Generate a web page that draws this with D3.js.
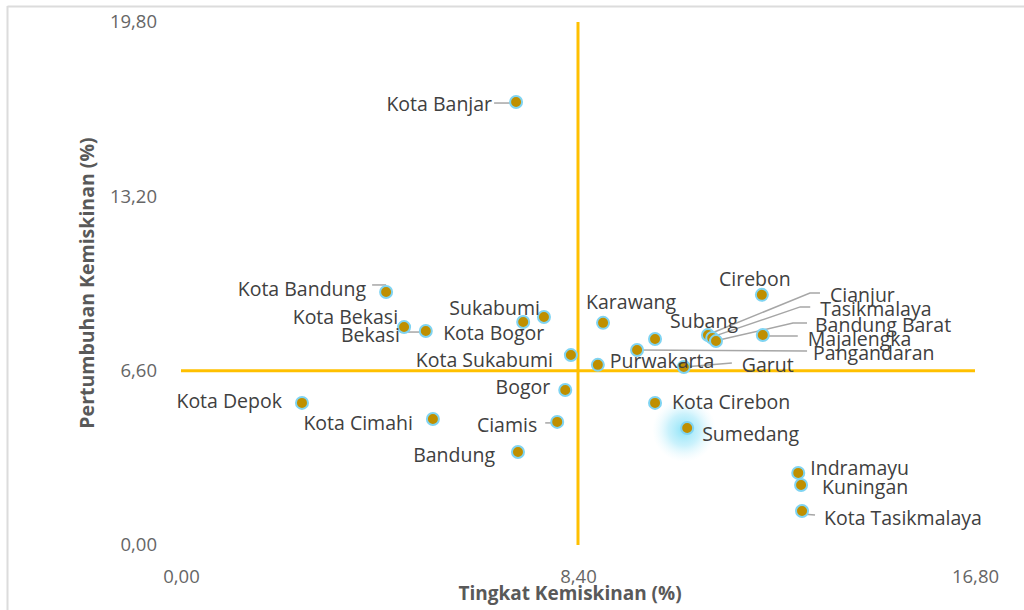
<!DOCTYPE html>
<html><head><meta charset="utf-8">
<script src="https://cdn.jsdelivr.net/npm/d3@7"></script>
<style>body{margin:0;background:#fff}svg{display:block}</style>
</head><body>
<svg id="c" width="1024" height="610"></svg>
<script>
const names = ["Kota Banjar","Kota Bandung","Kota Bekasi","Bekasi","Sukabumi","Kota Bogor","Kota Sukabumi","Bogor","Kota Depok","Kota Cimahi","Ciamis","Bandung","Karawang","Subang","Cianjur","Tasikmalaya","Bandung Barat","Majalengka","Cirebon","Pangandaran","Purwakarta","Garut","Kota Cirebon","Sumedang","Indramayu","Kuningan","Kota Tasikmalaya"];
const povertyRate = [7.09,4.34,4.72,5.18,7.68,7.24,8.25,8.13,2.56,5.33,7.96,7.13,8.93,10.03,11.15,11.24,11.32,12.31,12.29,9.65,8.82,10.64,10.03,10.71,13.06,13.12,13.14];
const povertyGrowth = [16.77,9.58,8.25,8.10,8.63,8.44,7.19,5.87,5.38,4.77,4.66,3.52,8.41,7.80,7.95,7.84,7.72,7.95,9.47,7.38,6.82,6.74,5.38,4.43,2.73,2.27,1.29];
const xTicks = [0,8.4,16.8];
const yTicks = [0,6.6,13.2,19.8];
const xThreshold = 8.4, yThreshold = 6.6;
const xTitle = "Tingkat Kemiskinan (%)", yTitle = "Pertumbuhan Kemiskinan (%)";
const highlighted = "Sumedang";

// label layout (pixel offsets from the point)
const labelLayout = {
 "Kota Banjar":{a:"end",dx:-24,dy:2,lead:[[-22,1],[-6,1]]},
 "Kota Bandung":{a:"end",dx:-20,dy:-3,lead:[[-14,-7],[0,-7]]},
 "Kota Bekasi":{a:"end",dx:-6,dy:-10},
 "Bekasi":{a:"end",dx:-26,dy:4,lead:[[-26,1],[-6,1]]},
 "Sukabumi":{a:"end",dx:-4,dy:-9},
 "Kota Bogor":{a:"start",dx:-80,dy:11},
 "Kota Sukabumi":{a:"end",dx:-18,dy:5},
 "Bogor":{a:"end",dx:-15,dy:-3},
 "Kota Depok":{a:"end",dx:-20,dy:-2},
 "Kota Cimahi":{a:"end",dx:-20,dy:4},
 "Ciamis":{a:"end",dx:-20,dy:3,lead:[[-12,1],[-4,1]]},
 "Bandung":{a:"end",dx:-23,dy:3},
 "Karawang":{a:"start",dx:-17,dy:-21},
 "Subang":{a:"start",dx:15,dy:-18},
 "Cianjur":{a:"start",dx:122,dy:-40,lead:[[4,-2],[102,-42],[112,-42]]},
 "Tasikmalaya":{a:"start",dx:108,dy:-29,lead:[[3,-2],[88,-31],[98,-31]]},
 "Bandung Barat":{a:"start",dx:99,dy:-16,lead:[[3,-1],[77,-18],[91,-18]]},
 "Majalengka":{a:"start",dx:45,dy:4,lead:[[0,1],[35,1]]},
 "Cirebon":{a:"middle",dx:-7,dy:-16},
 "Pangandaran":{a:"start",dx:176,dy:3,lead:[[0,0],[170,1]]},
 "Purwakarta":{a:"start",dx:12,dy:-4},
 "Garut":{a:"start",dx:58,dy:-2,lead:[[0,0],[48,-4]]},
 "Kota Cirebon":{a:"start",dx:17,dy:-1},
 "Sumedang":{a:"start",dx:15,dy:6},
 "Indramayu":{a:"start",dx:12,dy:-5},
 "Kuningan":{a:"start",dx:21,dy:2},
 "Kota Tasikmalaya":{a:"start",dx:22,dy:7,lead:[[0,3],[13,4]]}
};

const data = names.map((n,i)=>({name:n,x:povertyRate[i],y:povertyGrowth[i]}));
const svg = d3.select("#c");
const FONT = "'Open Sans', 'Noto Sans', sans-serif";
const x = d3.scaleLinear().domain([0,16.8]).range([181,975]);
const y = d3.scaleLinear().domain([0,19.8]).range([545,22]);
const fmt = d => d3.format(".2f")(d).replace(".",",");

// frame
svg.append("line").attr("x1",7.5).attr("x2",1024).attr("y1",6.5).attr("y2",6.5).attr("stroke","#dcdcdc").attr("stroke-width",2);
svg.append("line").attr("x1",7.5).attr("x2",7.5).attr("y1",6).attr("y2",610).attr("stroke","#dcdcdc").attr("stroke-width",2);

// glow
const defs = svg.append("defs");
const g = defs.append("radialGradient").attr("id","glow");
g.append("stop").attr("offset","0%").attr("stop-color","#7fe0f7").attr("stop-opacity",0.9);
g.append("stop").attr("offset","50%").attr("stop-color","#a8e9fa").attr("stop-opacity",0.6);
g.append("stop").attr("offset","100%").attr("stop-color","#e0f7fd").attr("stop-opacity",0);

// axes
const xa = svg.append("g").attr("transform","translate(0,545)")
  .call(d3.axisBottom(x).tickValues(xTicks).tickSize(0).tickPadding(25).tickFormat(fmt));
const ya = svg.append("g").attr("transform","translate(181,0)")
  .call(d3.axisLeft(y).tickValues(yTicks).tickSize(0).tickPadding(24).tickFormat(fmt));
[xa,ya].forEach(a=>{a.select(".domain").remove();
  a.selectAll("text").attr("fill","#666").style("font-family",FONT).style("font-size","18.5px");});

// titles
svg.append("text").attr("x",570).attr("y",593).attr("dy","0.35em").attr("text-anchor","middle")
  .attr("fill","#595959").style("font-family",FONT).style("font-weight","bold").style("font-size","19px").text(xTitle);
svg.append("text").attr("transform","translate(87,283) rotate(-90)").attr("dy","0.35em").attr("text-anchor","middle")
  .attr("fill","#595959").style("font-family",FONT).style("font-weight","bold").style("font-size","19.5px").text(yTitle);

// threshold lines
svg.append("line").attr("x1",x(0)).attr("x2",x(16.8)).attr("y1",y(yThreshold)).attr("y2",y(yThreshold))
  .attr("stroke","#FFC000").attr("stroke-width",3);
svg.append("line").attr("x1",x(xThreshold)).attr("x2",x(xThreshold)).attr("y1",y(19.8)).attr("y2",y(0))
  .attr("stroke","#FFC000").attr("stroke-width",3);

// glow behind highlighted
data.filter(d=>d.name===highlighted).forEach(d=>{
  svg.append("circle").attr("cx",x(d.x)-3).attr("cy",y(d.y)+2).attr("r",32).attr("fill","url(#glow)");
});

// leader lines
const line = d3.line();
data.forEach(d=>{
  const L = labelLayout[d.name];
  if(L && L.lead){
    svg.append("path").attr("d",line(L.lead.map(p=>[x(d.x)+p[0],y(d.y)+p[1]])))
      .attr("fill","none").attr("stroke","#a6a6a6").attr("stroke-width",1.5);
  }
});

// points
svg.selectAll("circle.pt").data(data).join("circle").attr("class","pt")
  .attr("cx",d=>x(d.x)).attr("cy",d=>y(d.y)).attr("r",6)
  .attr("fill","#BF8F00").attr("stroke","#7fd4f2").attr("stroke-width",2);

// labels
svg.selectAll("text.lbl").data(data).join("text").attr("class","lbl")
  .attr("x",d=>x(d.x)+labelLayout[d.name].dx).attr("y",d=>y(d.y)+labelLayout[d.name].dy)
  .attr("dy","0.35em").attr("text-anchor",d=>labelLayout[d.name].a)
  .attr("fill","#404040").style("font-family",FONT).style("font-size","19.5px").text(d=>d.name);
</script>
</body></html>
